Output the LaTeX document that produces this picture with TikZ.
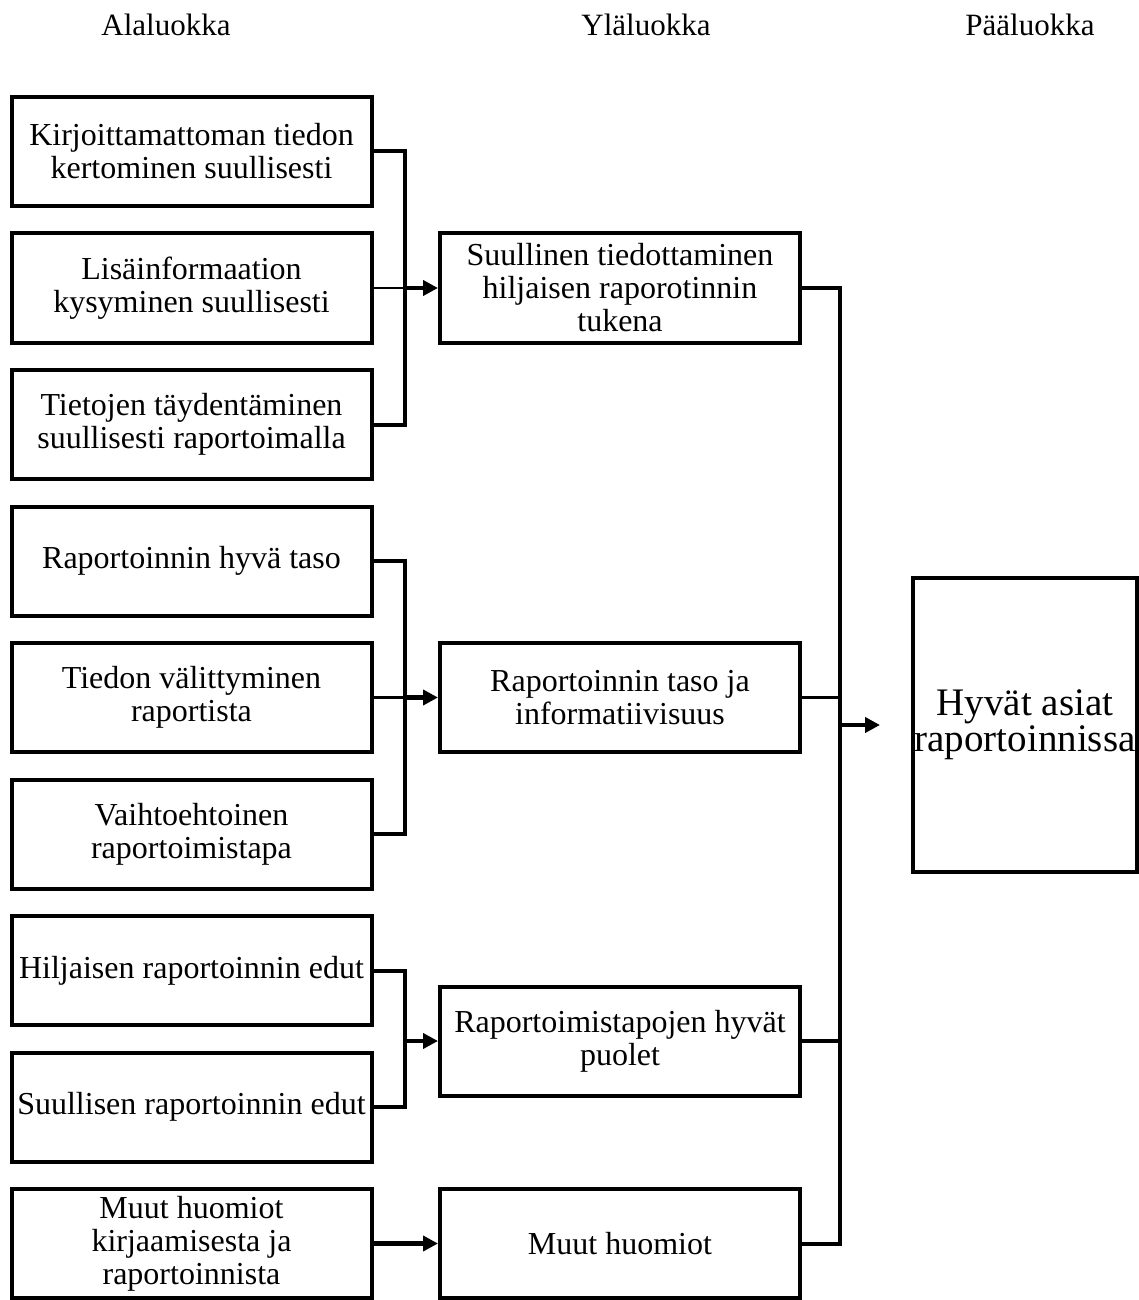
\documentclass[tikz,border=0pt]{standalone}
\usepackage{fontspec}
\setmainfont{Liberation Serif}
\usetikzlibrary{arrows.meta}

\tikzset{
  box/.style={draw, line width=2pt, minimum width=180pt, minimum height=54.5pt,
              inner sep=0pt, align=center, font=\fontsize{16}{16.5}\selectfont},
  head/.style={anchor=base, font=\fontsize{15.5}{18}\selectfont},
  link/.style={line width=2pt},
  feed/.style={line width=1.4pt},
  arr/.style={line width=2.2pt, -{Triangle[length=7.5pt,width=7.5pt]}},
}

\begin{document}
\begin{tikzpicture}[x=0.5pt, y=-0.5pt]
  \useasboundingbox (0,0) rectangle (1139,1300);

  % otsikot
  \node[head] (hAla) at (166,36) {Alaluokka};
  \node[head] (hYla) at (646,36) {Yläluokka};
  \node[head] (hPaa) at (1030,36) {Pääluokka};

  % alaluokat
  \node[box] (a1) at (191.5,151.5) {Kirjoittamattoman tiedon\\kertominen suullisesti};
  \node[box] (a2) at (191.5,288) {Lisäinformaation\\kysyminen suullisesti};
  \node[box] (a3) at (191.5,424.5) {Tietojen täydentäminen\\suullisesti raportoimalla};
  \node[box] (a4) at (191.5,561) {Raportoinnin hyvä taso};
  \node[box] (a5) at (191.5,697.5) {Tiedon välittyminen\\raportista};
  \node[box] (a6) at (191.5,834) {Vaihtoehtoinen\\raportoimistapa};
  \node[box] (a7) at (191.5,970.5) {Hiljaisen raportoinnin edut};
  \node[box] (a8) at (191.5,1107) {Suullisen raportoinnin edut};
  \node[box] (a9) at (191.5,1243.5) {Muut huomiot\\kirjaamisesta ja\\raportoinnista};

  % yläluokat
  \node[box] (m1) at (620,288) {Suullinen tiedottaminen\\hiljaisen raporotinnin\\tukena};
  \node[box] (m2) at (620,697.5) {Raportoinnin taso ja\\informatiivisuus};
  \node[box] (m3) at (620,1041) {Raportoimistapojen hyvät\\puolet};
  \node[box] (m4) at (620,1243.5) {Muut huomiot};

  % pääluokka
  \node[box, minimum width=112pt, minimum height=147pt,
        font=\fontsize{19.5}{18}\selectfont] (p) at (1025,725) {Hyvät asiat\\raportoinnissa};

  % haarat
  \coordinate (j1) at (405,288);
  \coordinate (j2) at (405,697.5);
  \coordinate (j3) at (405,1041);
  \coordinate (k) at (840,725);
  \coordinate (tip) at (880,725);

  \draw[link] (a1.east) -| (j1) |- (a3.east);
  \draw[feed] (a2.east) -- (j1);
  \draw[arr] (j1) -- (m1.west);

  \draw[link] (a4.east) -| (j2) |- (a6.east);
  \draw[feed] (a5.east) -- (j2);
  \draw[arr] (j2) -- (m2.west);

  \draw[link] (a7.east) -| (j3) |- (a8.east);
  \draw[arr] (j3) -- (m3.west);

  \draw[arr] (a9) -- (m4);

  \draw[link] (m1.east) -| (k) |- (m4.east);
  \draw[feed] (m2.east) -- (m2.east -| k);
  \draw[link] (m3.east) -- (m3.east -| k);
  \draw[arr] (k) -- (tip);
\end{tikzpicture}
\end{document}
